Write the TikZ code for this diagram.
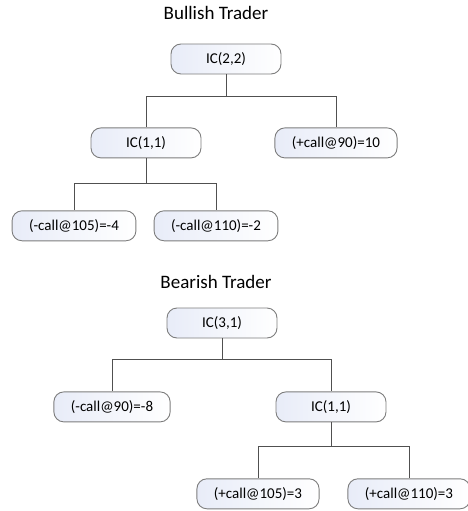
\documentclass[tikz,border=0pt]{standalone}
\usepackage{fontspec}
\setmainfont{Carlito}
\usetikzlibrary{positioning}

\definecolor{boxline}{RGB}{125,125,125}
\definecolor{boxshade}{RGB}{232,236,248}
\definecolor{wire}{RGB}{80,80,80}

\begin{document}
\begin{tikzpicture}[x=1pt,y=1pt,node distance=53pt,
    every node/.style={font=\fontsize{15}{18}\selectfont},
    leaf/.style={draw=boxline,line width=0.9pt,rounded corners=10pt,left color=boxshade,right color=white,
        minimum width=110pt,minimum height=30pt,inner xsep=17pt,inner ysep=0pt},
    title/.style={font=\fontsize{19}{23}\selectfont},
    wire/.style={draw=wire,line width=0.9pt}]
    \useasboundingbox (0,0) rectangle (467,-511);

    % bullish tree
    \node[title] (bullish) at (216,-13) {Bullish Trader};
    \node[leaf] (ic22) at (226,-59) {IC(2,2)};
    \node[leaf, below=53pt of ic22, xshift=-80pt] (ic11a) {IC(1,1)};
    \node[leaf, below=53pt of ic22, xshift=110pt] (pc90) {(+call@90)=10};
    \node[leaf, below=52pt of ic11a, xshift=-72pt] (mc105) {(-call@105)=-4};
    \node[leaf, below=52pt of ic11a, xshift=70pt] (mc110) {(-call@110)=-2};

    % bearish tree
    \node[title] (bearish) at (216,-282) {Bearish Trader};
    \node[leaf] (ic31) at (222,-323) {IC(3,1)};
    \node[leaf, below=53pt of ic31, xshift=-110pt] (mc90) {(-call@90)=-8};
    \node[leaf, below=53pt of ic31, xshift=109pt] (ic11b) {IC(1,1)};
    \node[leaf, below=56pt of ic11b, xshift=-73pt] (pc105) {(+call@105)=3};
    \node[leaf, below=56pt of ic11b, xshift=78pt] (pc110) {(+call@110)=3};

    \draw[wire] (ic22.south) -- ++(0,-22) -| (ic11a.north)
          (ic22.south) -- ++(0,-22) -| (pc90.north)
          (ic11a.south) -- ++(0,-25) -| (mc105.north)
          (ic11a.south) -- ++(0,-25) -| (mc110.north)
          (ic31.south) -- ++(0,-21) -| (mc90.north)
          (ic31.south) -- ++(0,-21) -| (ic11b.north)
          (ic11b.south) -- ++(0,-24) -| (pc105.north)
          (ic11b.south) -- ++(0,-24) -| (pc110.north)
          ;
\end{tikzpicture}
\end{document}
